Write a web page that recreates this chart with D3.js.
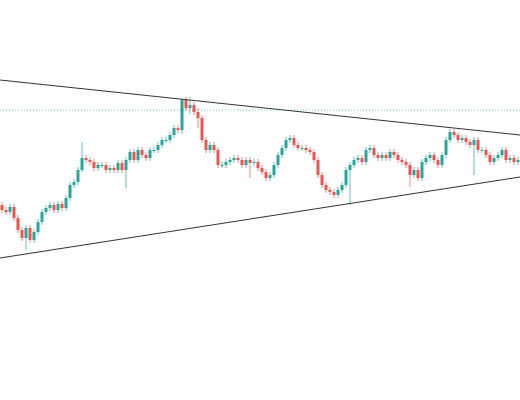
<!DOCTYPE html>
<html>
<head>
<meta charset="utf-8">
<script src="https://cdn.jsdelivr.net/npm/d3@7"></script>
<style>body{margin:0;background:#fff}</style>
</head>
<body>
<div id="chart"></div>
<script>
// closing prices per candle (price = 400 - pixel row of the reference)
var closesY = [210,212,207,218, 230,238,228,240, 232,222,212, 208,205,210,204,208,198,
  185,182,170,158, 160,162,168,165,165, 170,168,170,163,170,160, 152,160,150,155,158,150,
  150,145,140,140,135,128,130, 100, 108,105,112,118, 140,150,145,150,
  165,165,162,160,158,160,165,160,163,162, 168,172,178,175, 165,155,148,140,
  138,145,148,148,150, 152,160,175,185, 190,192,195,190,185,170, 165,160,158,162,
  150,148,155,158,155,158, 152,155,160,162, 165,175,170,178, 162,158,155,160,
  165,155,140,132,135, 140,138,142,145,140, 150,150,155,162,158, 155,150,160,158, 162,160];
var closes = closesY.map(function (v) { return 400 - v; });
var firstOpen = 195;
// candles with long wicks: [index, wick up, wick down]
var longWicks = [[20, 16, 2], [31, 3, 18], [45, 2, 4], [47, 8, 6], [62, 3, 15], [87, 3, 35],
  [102, 3, 12], [118, 3, 30], [49, 4, 10], [6, 3, 12]];
var defaultWick = 3;
// trend lines [x0, price0, x1, price1] and resistance level
var upperLine = [0, 400 - 80, 520, 400 - 135];
var lowerLine = [0, 400 - 258, 520, 400 - 177];
var level = 400 - 110;

var width = 520, height = 400;
var svg = d3.select("#chart").append("svg").attr("width", width).attr("height", height);

var x = d3.scaleLinear().domain([0, 130]).range([0, 520]);
var y = d3.scaleLinear().domain([0, 400]).range([400, 0]);

var data = closes.map(function (c, i) {
  var o = i === 0 ? firstOpen : closes[i - 1];
  var w = longWicks.find(function (d) { return d[0] === i; });
  var up = w ? w[1] : defaultWick, dn = w ? w[2] : defaultWick;
  return { i: i, o: o, c: c, h: Math.max(o, c) + up, l: Math.min(o, c) - dn };
});

// dotted level
svg.append("line")
  .attr("x1", 0).attr("x2", width).attr("y1", y(level)).attr("y2", y(level))
  .attr("stroke", "#7fcac3").attr("stroke-dasharray", "1,2").attr("stroke-width", 1);

var g = svg.append("g").selectAll("g").data(data).enter().append("g")
  .attr("fill", function (d) { return d.c >= d.o ? "#26a69a" : "#ef5350"; })
  .attr("stroke", function (d) { return d.c >= d.o ? "#26a69a" : "#ef5350"; });
g.append("line")
  .attr("x1", function (d) { return x(d.i) + 2; }).attr("x2", function (d) { return x(d.i) + 2; })
  .attr("y1", function (d) { return y(d.h); }).attr("y2", function (d) { return y(d.l); })
  .attr("stroke-width", 1).attr("stroke-opacity", 0.7);
g.append("rect")
  .attr("x", function (d) { return x(d.i) + 0.5; })
  .attr("width", 3)
  .attr("y", function (d) { return y(Math.max(d.o, d.c)); })
  .attr("height", function (d) { return Math.max(1, Math.abs(y(d.o) - y(d.c))); })
  .attr("stroke", "none");

// trend lines
[upperLine, lowerLine].forEach(function (l) {
  svg.append("line")
    .attr("x1", l[0]).attr("y1", y(l[1])).attr("x2", l[2]).attr("y2", y(l[3]))
    .attr("stroke", "#333").attr("stroke-width", 1);
});
</script>
</body>
</html>
